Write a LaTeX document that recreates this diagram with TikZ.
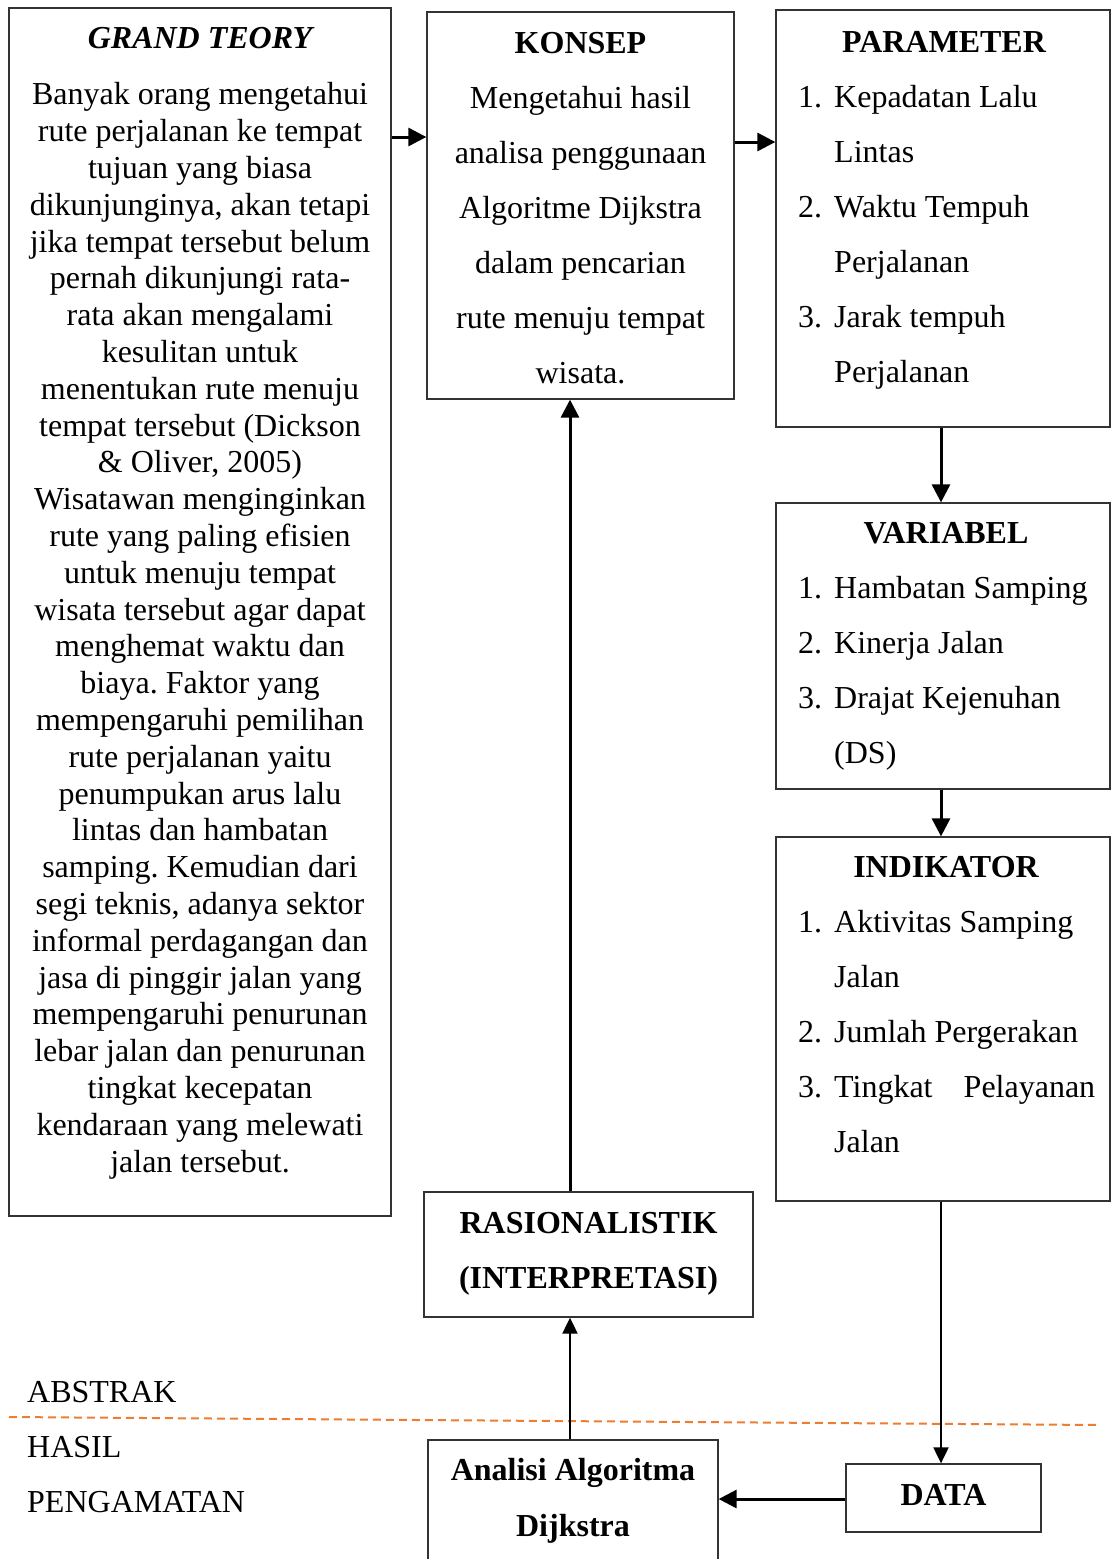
\documentclass[tikz,border=0pt]{standalone}
\usepackage{fontspec}
\setmainfont{Liberation Serif}
\usetikzlibrary{arrows.meta,positioning}
\frenchspacing

\definecolor{dashorange}{HTML}{ED7D31}

\tikzset{
  box/.style={draw=black!80, line width=1.3pt, inner sep=0pt},
  txt/.style={font=\fontsize{32}{55}\selectfont, inner sep=0pt},
  title/.style={txt, font=\fontsize{32}{55}\selectfont\bfseries, anchor=base},
  arr/.style={line width=3pt, -{Triangle[length=18pt,width=18pt]}},
  thinarr/.style={line width=2pt, -{Triangle[length=16pt,width=15pt]}},
}

\newcommand{\itm}[2]{\makebox[36pt][l]{#1}#2}
\newcommand{\cont}[1]{\hspace*{36pt}#1}

\begin{document}
\begin{tikzpicture}[x=1pt,y=-1pt]
    \clip (0,0) rectangle (1111,1559);

    % boxes
    \node[box, minimum width=382pt, minimum height=1208pt] (grand) at (200,612) {};
    \node[box, minimum width=307pt, minimum height=387pt] (konsep) at (580.5,205.5) {};
    \node[box, minimum width=334pt, minimum height=417pt] (param) at (943,218.5) {};
    \node[box, minimum width=334pt, minimum height=286pt] (var) at (943,646) {};
    \node[box, minimum width=334pt, minimum height=364pt] (ind) at (943,1019) {};
    \node[box, minimum width=329pt, minimum height=125pt] (rasio) at (588.5,1254.5) {};
    \node[box, minimum width=290pt, minimum height=140pt] (analisi) at (573,1510) {};
    \node[box, minimum width=195pt, minimum height=68pt] (data) at (943.5,1498) {};

    % grand teory (base = last line)
    \node[title, font=\fontsize{32}{55}\selectfont\bfseries\itshape] (grandT) at (200,48) {GRAND TEORY};
    \node[txt, font=\fontsize{32}{36.8}\selectfont, align=center, anchor=base] (grandB) at (200,1172) {%
      Banyak orang mengetahui\\ rute perjalanan ke tempat\\ tujuan yang biasa\\
      dikunjunginya, akan tetapi\\ jika tempat tersebut belum\\ pernah dikunjungi rata-\\
      rata akan mengalami\\ kesulitan untuk\\ menentukan rute menuju\\
      tempat tersebut (Dickson\\ \& Oliver, 2005)\\ Wisatawan menginginkan\\
      rute yang paling efisien\\ untuk menuju tempat\\ wisata tersebut agar dapat\\
      menghemat waktu dan\\ biaya. Faktor yang\\ mempengaruhi pemilihan\\
      rute perjalanan yaitu\\ penumpukan arus lalu\\ lintas dan hambatan\\
      samping. Kemudian dari\\ segi teknis, adanya sektor\\ informal perdagangan dan\\
      jasa di pinggir jalan yang\\ mempengaruhi penurunan\\ lebar jalan dan penurunan\\
      tingkat kecepatan\\ kendaraan yang melewati\\ jalan tersebut.};

    % konsep
    \node[txt, align=center, anchor=base] (konsepT) at (580.5,383) {%
      \textbf{KONSEP}\\ Mengetahui hasil\\ analisa penggunaan\\ Algoritme Dijkstra\\
      dalam pencarian\\ rute menuju tempat\\ wisata.};

    % parameter
    \node[title] (paramT) at (944,52) {PARAMETER};
    \node[txt, align=left, anchor=base west] (paramL) at (798,382) {%
      \itm{1.}{Kepadatan Lalu}\\ \cont{Lintas}\\ \itm{2.}{Waktu Tempuh}\\
      \cont{Perjalanan}\\ \itm{3.}{Jarak tempuh}\\ \cont{Perjalanan}};

    % variabel
    \node[title] (varT) at (946,543) {VARIABEL};
    \node[txt, align=left, anchor=base west] (varL) at (798,763) {%
      \itm{1.}{Hambatan Samping}\\ \itm{2.}{Kinerja Jalan}\\
      \itm{3.}{Drajat Kejenuhan}\\ \cont{(DS)}};

    % indikator
    \node[title] (indT) at (946,877) {INDIKATOR};
    \node[txt, align=left, anchor=base west] (indL) at (798,1152) {%
      \itm{1.}{Aktivitas Samping}\\ \cont{Jalan}\\ \itm{2.}{Jumlah Pergerakan}\\
      \itm{3.}{\makebox[261pt][s]{Tingkat Pelayanan}}\\ \cont{Jalan}};

    % bawah
    \node[txt, font=\fontsize{32}{55}\selectfont\bfseries, align=center, anchor=base] (rasioT) at (588.5,1288) {%
      RASIONALISTIK\\ (INTERPRETASI)};
    \node[txt, font=\fontsize{32}{56}\selectfont\bfseries, align=center, anchor=base] (analisiT) at (573,1536) {%
      Analisi Algoritma\\ Dijkstra};
    \node[title] (dataT) at (943.5,1505) {DATA};

    \node[txt, anchor=base west] (abstrak) at (27,1402) {ABSTRAK};
    \node[txt, align=left, anchor=base west] (hasil) at (27,1512) {HASIL\\ PENGAMATAN};

    % garis batas
    \coordinate (dashL) at (9,1417);
    \coordinate (dashR) at (1100,1425);
    \draw[dashorange, line width=2pt, dash pattern=on 8pt off 5pt] (dashL) -- (dashR);

    % panah
    \draw[arr] (grand.east |- 0,137) -- (konsep.west |- 0,137);
    \draw[arr] (konsep.east |- 0,142) -- (param.west |- 0,142);
    \draw[arr] (param.south -| 941,0) -- (var.north -| 941,0);
    \draw[arr] (var.south -| 941,0) -- (ind.north -| 941,0);
    \draw[thinarr] (ind.south -| 941,0) -- (data.north -| 941,0);
    \draw[arr] (data.west |- 0,1499) -- (analisi.east |- 0,1499);
    \draw[thinarr] (analisi.north -| 570,0) -- (rasio.south -| 570,0);
    \draw[arr] (rasio.north -| 570,0) -- (konsep.south -| 570,0);
\end{tikzpicture}
\end{document}
